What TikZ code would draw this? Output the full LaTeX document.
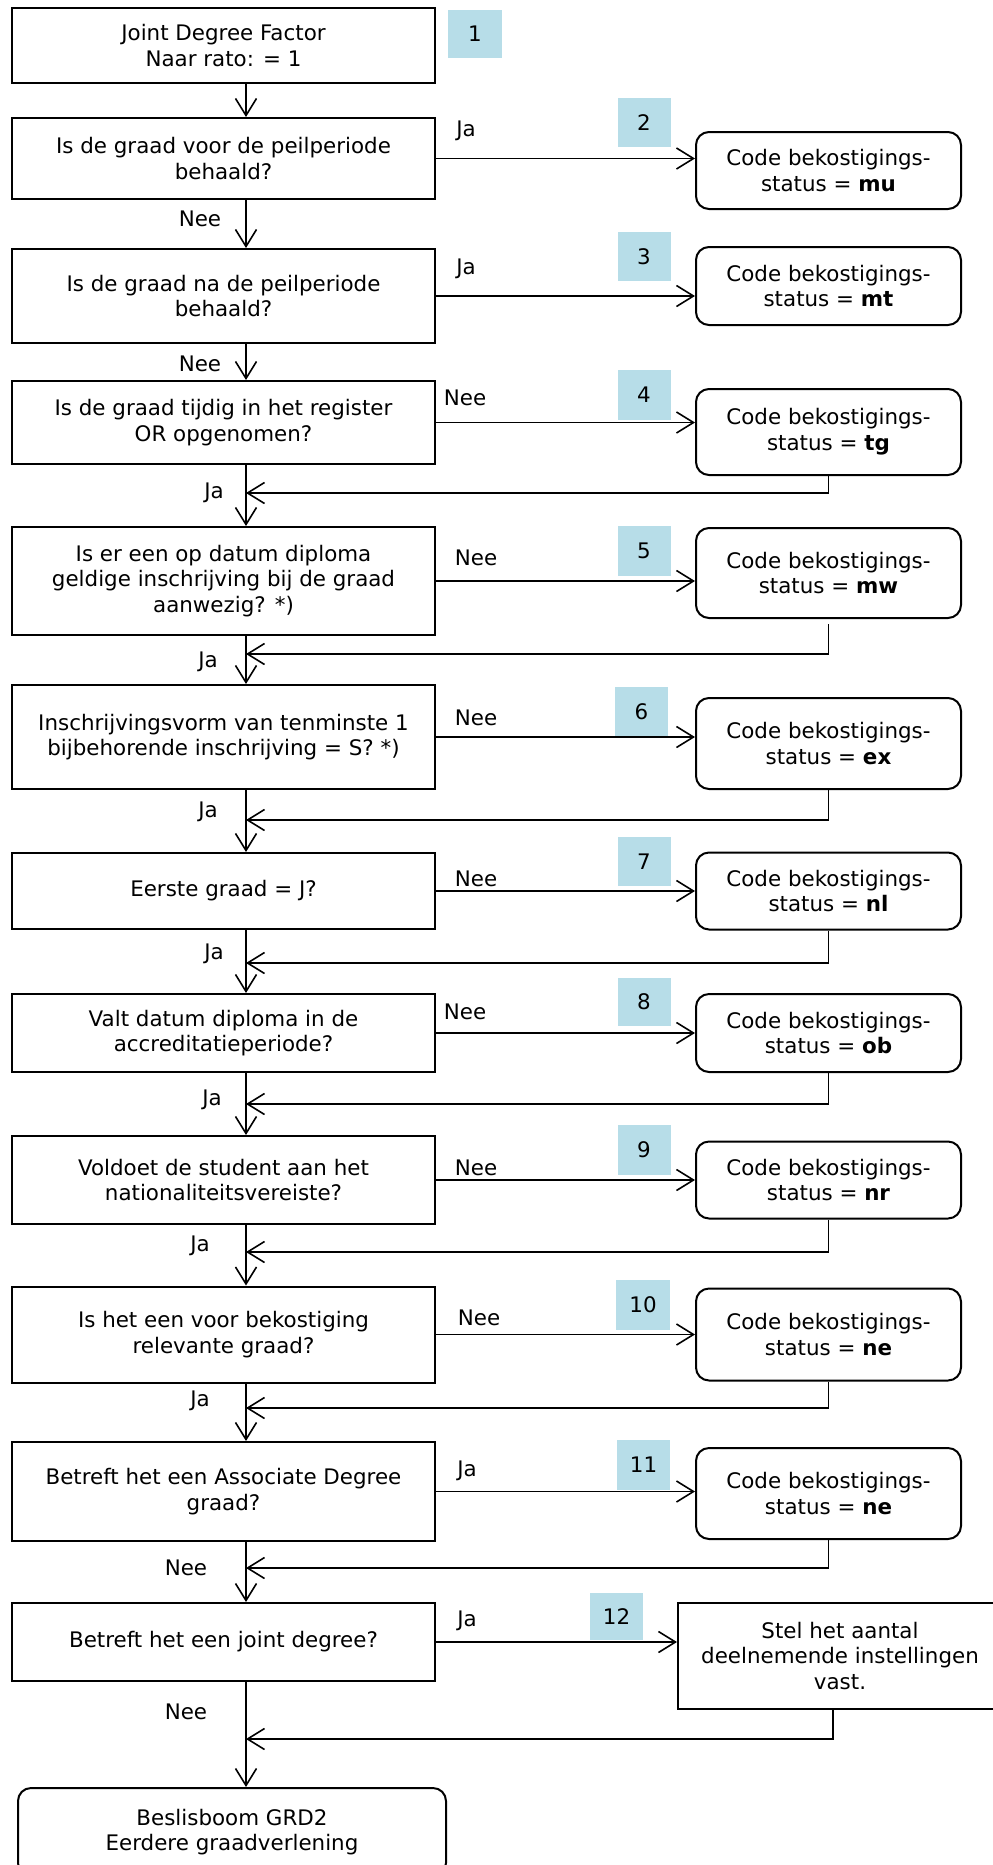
\documentclass[tikz,border=0pt]{standalone}
\usepackage{fontspec}
\setmainfont{DejaVu Sans}
\usepackage{tikz}
\usetikzlibrary{positioning,arrows.meta}
\definecolor{tagblue}{RGB}{183,221,232}

\begin{document}
\begin{tikzpicture}[->,>={Straight Barb[length=8.5pt,width=10.5pt]},x=0.5pt,y=-0.5pt,
line width=0.8pt, node distance=302.5pt,
font=\fontsize{10.7}{12.9}\selectfont]
   \tikzstyle{question}=[rectangle,draw=black,line width=1pt,minimum width=211.5pt,align=center,inner sep=2pt]
   \tikzstyle{status}=[rectangle,rounded corners=6.5pt,draw=black,line width=1pt,minimum width=132.5pt,align=center]
   \tikzstyle{action}=[rectangle,draw=black,line width=1pt,minimum width=162pt,align=center]
   \tikzstyle{tag}=[rectangle,fill=tagblue,minimum width=26.5pt,minimum height=24.5pt,inner sep=0pt]
   \tikzstyle{lbl}=[inner sep=0pt]
\useasboundingbox (0,0) rectangle (992,1865);
\coordinate (spine) at (246,0);

\node[question, minimum height=37.5pt] (Q1) at (223.5,45.5) {Joint Degree Factor\\Naar rato: = 1};
  \node[tag, minimum width=27pt, minimum height=24pt] (T1) at (475,34) {1};

\node[question, minimum height=40.5pt] (Q2) at (223.5,158.5) {Is de graad voor de peilperiode\\behaald?};
  \node[status, minimum height=38.5pt] (S2) [right of=Q2, yshift=-6pt] {Code bekostigings-\\status = \textbf{mu}};
  \node[tag] (T2) at (644,122.5) {2};

\node[question, minimum height=47pt] (Q3) at (223.5,296) {Is de graad na de peilperiode\\behaald?};
  \node[status, minimum height=39pt] (S3) [right of=Q3, yshift=5pt] {Code bekostigings-\\status = \textbf{mt}};
  \node[tag] (T3) at (644,256.5) {3};

\node[question, minimum height=41.5pt] (Q4) at (223.5,422.5) {Is de graad tijdig in het register\\OR opgenomen?};
  \node[status, minimum height=43pt] (S4) [right of=Q4, yshift=-4.75pt] {Code bekostigings-\\status = \textbf{tg}};
  \node[tag, minimum height=25pt] (T4) at (644,395) {4};

\node[question, minimum height=54pt] (Q5) at (223.5,581) {Is er een op datum diploma\\geldige inschrijving bij de graad\\aanwezig? *)};
  \node[status, minimum height=45pt] (S5) [right of=Q5, yshift=4pt] {Code bekostigings-\\status = \textbf{mw}};
  \node[tag, minimum height=25pt] (T5) at (644,551) {5};

\node[question, minimum height=52pt] (Q6) at (223.5,737) {Inschrijvingsvorm van tenminste 1\\bijbehorende inschrijving = S? *)};
  \node[status, minimum height=45.5pt] (S6) [right of=Q6, yshift=-3.25pt] {Code bekostigings-\\status = \textbf{ex}};
  \node[tag] (T6) at (641.5,711.5) {6};

\node[question, minimum height=38pt] (Q7) at (223.5,891) {Eerste graad = J?};
  \node[status, minimum height=38.5pt] (S7) [right of=Q7] {Code bekostigings-\\status = \textbf{nl}};
  \node[tag] (T7) at (644,861.5) {7};

\node[question, minimum height=39pt] (Q8) at (223.5,1033) {Valt datum diploma in de\\accreditatieperiode?};
  \node[status, minimum height=39pt] (S8) [right of=Q8] {Code bekostigings-\\status = \textbf{ob}};
  \node[tag, minimum height=24pt] (T8) at (644,1002) {8};

\node[question, minimum height=44pt] (Q9) at (223.5,1180) {Voldoet de student aan het\\nationaliteitsvereiste?};
  \node[status, minimum height=38.5pt] (S9) [right of=Q9] {Code bekostigings-\\status = \textbf{nr}};
  \node[tag, minimum height=25pt] (T9) at (644,1150) {9};

\node[question, minimum height=48pt] (Q10) at (223.5,1334.5) {Is het een voor bekostiging\\relevante graad?};
  \node[status, minimum height=46pt] (S10) [right of=Q10] {Code bekostigings-\\status = \textbf{ne}};
  \node[tag, minimum width=27pt, minimum height=25pt] (T10) at (643,1305) {10};

\node[question, minimum height=49.5pt] (Q11) at (223.5,1491.5) {Betreft het een Associate Degree\\graad?};
  \node[status, minimum height=45.5pt] (S11) [right of=Q11, yshift=-1pt] {Code bekostigings-\\status = \textbf{ne}};
  \node[tag, minimum height=25pt] (T11) at (643.5,1464.5) {11};

\node[question, minimum height=39pt] (Q12) at (223.5,1642) {Betreft het een joint degree?};
  \node[action, minimum height=53pt] (A12) at (840,1656) {Stel het aantal\\deelnemende instellingen\\vast.};
  \node[tag, minimum height=23.5pt] (T12) at (616.5,1616.5) {12};

\node[status, minimum width=214pt, minimum height=44pt] (E) at (232,1832) {Beslisboom GRD2\\Eerdere graadverlening};

\node[lbl] (L2r) at (466,131) {Ja};
\node[lbl] (L2d) at (200,219) {Nee};
\node[lbl] (L3r) at (466,269) {Ja};
\node[lbl] (L3d) at (200,364) {Nee};
\node[lbl] (L4r) at (465,398) {Nee};
\node[lbl] (L4d) at (214,493) {Ja};
\node[lbl] (L5r) at (476,558) {Nee};
\node[lbl] (L5d) at (208,662) {Ja};
\node[lbl] (L6r) at (476,718) {Nee};
\node[lbl] (L6d) at (208,812) {Ja};
\node[lbl] (L7r) at (476,879) {Nee};
\node[lbl] (L7d) at (214,954) {Ja};
\node[lbl] (L8r) at (465,1012) {Nee};
\node[lbl] (L8d) at (212,1100) {Ja};
\node[lbl] (L9r) at (476,1168) {Nee};
\node[lbl] (L9d) at (200,1246) {Ja};
\node[lbl] (L10r) at (479,1318) {Nee};
\node[lbl] (L10d) at (200,1401) {Ja};
\node[lbl] (L11r) at (467,1471) {Ja};
\node[lbl] (L11d) at (186,1568) {Nee};
\node[lbl] (L12r) at (467,1621) {Ja};
\node[lbl] (L12d) at (186,1712) {Nee};

\coordinate (R4) at (246,493);
\coordinate (R5) at (246,654);
\coordinate (R6) at (246,820);
\coordinate (R7) at (246,963);
\coordinate (R8) at (246,1104);
\coordinate (R9) at (246,1252);
\coordinate (R10) at (246,1408);
\coordinate (R11) at (246,1568);
\coordinate (R12) at (246,1739);

 \path  (Q1.south -| spine) edge (Q2.north -| spine)
        (Q2.south -| spine) edge (Q3.north -| spine)
        (Q3.south -| spine) edge (Q4.north -| spine)
        (Q4.south -| spine) edge (Q5.north -| spine)
        (Q5.south -| spine) edge (Q6.north -| spine)
        (Q6.south -| spine) edge (Q7.north -| spine)
        (Q7.south -| spine) edge (Q8.north -| spine)
        (Q8.south -| spine) edge (Q9.north -| spine)
        (Q9.south -| spine) edge (Q10.north -| spine)
        (Q10.south -| spine) edge (Q11.north -| spine)
        (Q11.south -| spine) edge (Q12.north -| spine)
        (Q12.south -| spine) edge (E.north -| spine);

 \path  (Q2) edge (Q2 -| S2.west)
        (Q3) edge (Q3 -| S3.west)
        (Q4) edge (Q4 -| S4.west)
        (Q5) edge (Q5 -| S5.west)
        (Q6) edge (Q6 -| S6.west)
        (Q7) edge (Q7 -| S7.west)
        (Q8) edge (Q8 -| S8.west)
        (Q9) edge (Q9 -| S9.west)
        (Q10) edge (Q10 -| S10.west)
        (Q11) edge (Q11 -| S11.west)
        (Q12) edge (Q12 -| A12.west);

\draw (S4.south) |- (R4);
\draw ([yshift=-2.5pt]S5.south) |- (R5);
\draw (S6.south) |- (R6);
\draw (S7.south) |- (R7);
\draw (S8.south) |- (R8);
\draw (S9.south) |- (R9);
\draw (S10.south) |- (R10);
\draw (S11.south) |- (R11);
\draw ([xshift=-3.5pt]A12.south) |- (R12);
\end{tikzpicture}
\end{document}
